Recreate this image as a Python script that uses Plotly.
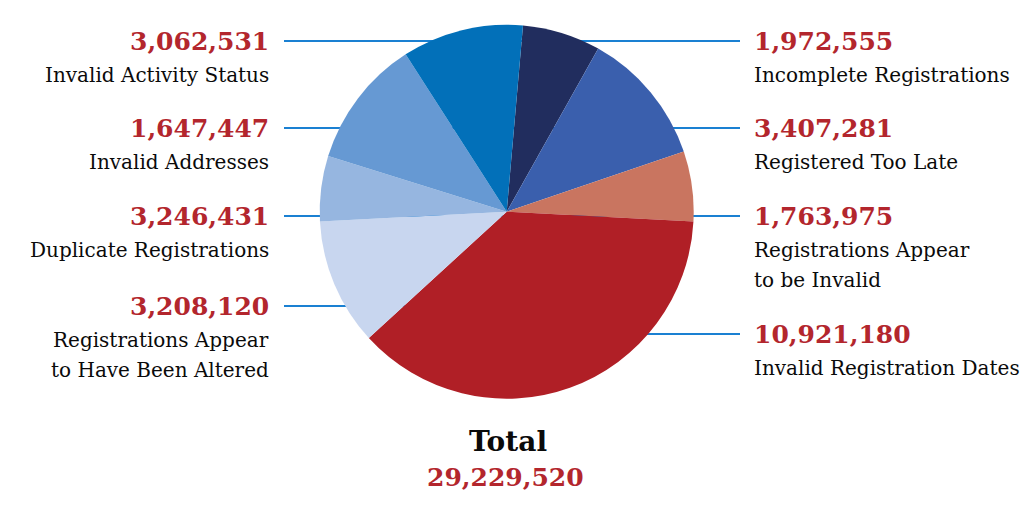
import plotly.graph_objects as go

# ---- data (pie order, clockwise from top) ----
slice_names = [
    "Incomplete Registrations",
    "Registered Too Late",
    "Registrations Appear to be Invalid",
    "Invalid Registration Dates",
    "Registrations Appear to Have Been Altered",
    "Invalid Addresses",
    "Duplicate Registrations",
    "Invalid Activity Status",
]
slice_values = [1972555, 3407281, 1763975, 10921180, 3208120, 1647447, 3246431, 3062531]
slice_colors = ["#212d5e", "#3a5fad", "#c97560", "#b01f26",
                "#c8d6ef", "#96b6e0", "#6699d3", "#0270b9"]

# callout text lines (label wording as shown)
left_callouts = ["Invalid Activity Status", "Invalid Addresses",
                 "Duplicate Registrations", "Registrations Appear to Have Been Altered"]
right_callouts = ["Incomplete Registrations", "Registered Too Late",
                  "Registrations Appear to be Invalid", "Invalid Registration Dates"]
callout_lines = {
    "Registrations Appear to Have Been Altered": ["Registrations Appear", "to Have Been Altered"],
    "Registrations Appear to be Invalid": ["Registrations Appear", "to be Invalid"],
}
total_label = "Total"

# ---- layout constants ----
W, H = 1024, 512
CX, CY, R = 506.7, 211.7, 187
RED = "#b3262d"
LINE = "#1a80d2"
FONT = "DejaVu Serif"
NUM_SIZE = 25
DESC_SIZE = 20

def px(x):
    return x / W

def py(y):
    return 1 - y / H

value_of = dict(zip(slice_names, slice_values))

fig = go.Figure()
fig.add_trace(go.Pie(
    labels=slice_names, values=slice_values, sort=False,
    direction="clockwise", rotation=5,
    marker=dict(colors=slice_colors, line=dict(width=0)),
    textinfo="none", hoverinfo="label+value", showlegend=False,
    domain=dict(x=[px(CX - R), px(CX + R)], y=[py(CY + R), py(CY - R)]),
))

annotations = []
shapes = []
left_y = [41, 128, 216, 306]
right_y = [41, 128, 216, 334]
left_x = 271
right_x = 752

def add_callout(name, y, side):
    val = value_of[name]
    xa = "right" if side == "left" else "left"
    xx = left_x if side == "left" else right_x
    annotations.append(dict(
        x=px(xx), y=py(y), xref="paper", yref="paper", xanchor=xa, yanchor="middle",
        text=f"<b>{val:,}</b>", showarrow=False,
        font=dict(family=FONT, size=NUM_SIZE, color=RED)))
    lines = callout_lines.get(name, [name])
    for i, ln in enumerate(lines):
        annotations.append(dict(
            x=px(xx), y=py(y + 34 + 30 * i), xref="paper", yref="paper",
            xanchor=xa, yanchor="middle", text=ln, showarrow=False,
            font=dict(family=FONT, size=DESC_SIZE, color="#0a0a0a")))
    if side == "left":
        shapes.append(dict(type="line", xref="paper", yref="paper", layer="below",
                           x0=px(284), x1=px(CX), y0=py(y), y1=py(y),
                           line=dict(color=LINE, width=2)))
    else:
        shapes.append(dict(type="line", xref="paper", yref="paper", layer="below",
                           x0=px(CX), x1=px(740), y0=py(y), y1=py(y),
                           line=dict(color=LINE, width=2)))

for n, y in zip(left_callouts, left_y):
    add_callout(n, y, "left")
for n, y in zip(right_callouts, right_y):
    add_callout(n, y, "right")

total = sum(slice_values)
annotations.append(dict(x=px(508), y=py(441), xref="paper", yref="paper",
                        xanchor="center", yanchor="middle", text=f"<b>{total_label}</b>",
                        showarrow=False, font=dict(family=FONT, size=28, color="#0a0a0a")))
annotations.append(dict(x=px(505), y=py(477), xref="paper", yref="paper",
                        xanchor="center", yanchor="middle", text=f"<b>{total:,}</b>",
                        showarrow=False, font=dict(family=FONT, size=NUM_SIZE, color=RED)))

fig.update_layout(
    width=W, height=H, margin=dict(l=0, r=0, t=0, b=0),
    paper_bgcolor="white", plot_bgcolor="white",
    annotations=annotations, shapes=shapes,
)
fig.write_html("out.html", config={"displayModeBar": False},
               post_script="document.body.style.margin='0';document.body.style.overflow='hidden';")
